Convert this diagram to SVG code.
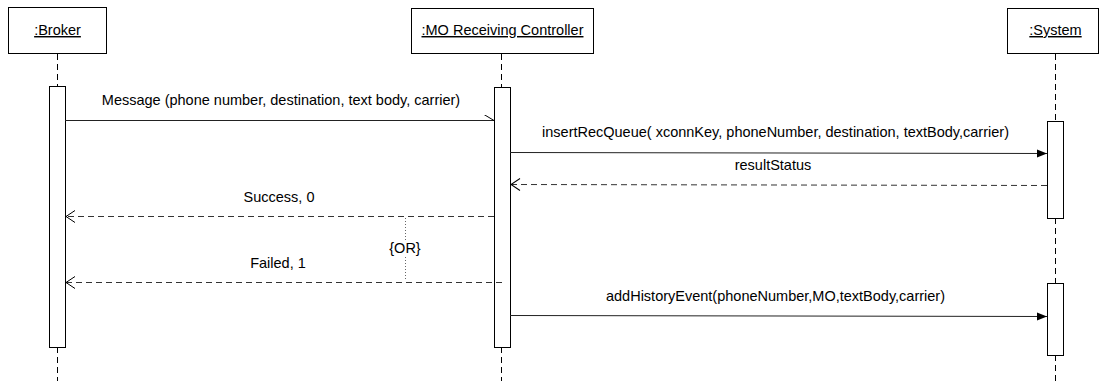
<svg xmlns="http://www.w3.org/2000/svg" width="1099" height="381" viewBox="0 0 1099 381">
  <defs>
    <style>
      .obj { fill: #fff; stroke: #000; stroke-width: 1; }
      .act { fill: #fff; stroke: #000; stroke-width: 1; }
      .life { stroke: #000; stroke-width: 1; stroke-dasharray: 6 4; fill: none; }
      .call { stroke: #222; stroke-width: 1; fill: none; }
      .ret { stroke: #333; stroke-width: 1; stroke-dasharray: 6 4; fill: none; }
      .guard { stroke: #666; stroke-width: 1; stroke-dasharray: 1 2; fill: none; }
      text { font-family: "Liberation Sans", Arial, sans-serif; font-size: 14.5px; fill: #000; }
      .name { text-anchor: middle; text-decoration: underline; }
      .lbl { text-anchor: middle; }
    </style>
    <!-- asynchronous (half stick) head -->
    <marker id="half" markerWidth="12" markerHeight="12" refX="10" refY="6" orient="auto" markerUnits="userSpaceOnUse">
      <path d="M0,0 L10,6" stroke="#000" stroke-width="1" fill="none"/>
    </marker>
    <!-- synchronous call head -->
    <marker id="filled" markerWidth="12" markerHeight="12" refX="10" refY="6" orient="auto" markerUnits="userSpaceOnUse">
      <path d="M0,2 L10,6 L0,10 Z" fill="#000"/>
    </marker>
    <!-- reply head -->
    <marker id="open" markerWidth="12" markerHeight="14" refX="10" refY="7" orient="auto" markerUnits="userSpaceOnUse">
      <path d="M1,1 L10,7 L1,13" stroke="#000" stroke-width="1" fill="none"/>
    </marker>
  </defs>

  <!-- Broker -->
  <g id="broker">
    <line class="life" x1="57.5" y1="54" x2="57.5" y2="86"/>
    <line class="life" x1="57.5" y1="347" x2="57.5" y2="381"/>
    <rect class="obj" x="8.5" y="7.5" width="98" height="46"/>
    <text class="name" x="57.5" y="35">:Broker</text>
    <rect class="act" x="49.5" y="86.5" width="16" height="261"/>
  </g>

  <!-- MO Receiving Controller -->
  <g id="controller">
    <line class="life" x1="501.5" y1="54" x2="501.5" y2="87"/>
    <line class="life" x1="501.5" y1="347" x2="501.5" y2="381"/>
    <rect class="obj" x="411.5" y="8.5" width="182" height="45"/>
    <text class="name" x="502.5" y="35">:MO Receiving Controller</text>
    <rect class="act" x="494.5" y="87.5" width="16" height="260"/>
  </g>

  <!-- System -->
  <g id="system">
    <line class="life" x1="1055.5" y1="54" x2="1055.5" y2="121"/>
    <line class="life" x1="1055.5" y1="218" x2="1055.5" y2="283"/>
    <line class="life" x1="1055.5" y1="355" x2="1055.5" y2="381"/>
    <rect class="obj" x="1007.5" y="8.5" width="91" height="45"/>
    <text class="name" x="1055.5" y="35">:System</text>
    <rect class="act" x="1047.5" y="121.5" width="16" height="97"/>
    <rect class="act" x="1047.5" y="283.5" width="16" height="72"/>
  </g>

  <!-- Messages -->
  <g id="connectors">
    <line class="call" x1="65" y1="120.5" x2="494" y2="120.5" marker-end="url(#half)"/>
    <text class="lbl" x="281" y="105">Message (phone number, destination, text body, carrier)</text>

    <line class="call" x1="510" y1="152.5" x2="1047" y2="153.5" marker-end="url(#filled)"/>
    <text class="lbl" x="775.5" y="137">insertRecQueue( xconnKey, phoneNumber, destination, textBody,carrier)</text>

    <line class="ret" x1="1047" y1="185.5" x2="511" y2="184.5" marker-end="url(#open)"/>
    <text class="lbl" x="773" y="170">resultStatus</text>

    <line class="ret" x1="494" y1="216.5" x2="66" y2="216.5" marker-end="url(#open)"/>
    <text class="lbl" x="279" y="202">Success, 0</text>

    <line class="ret" x1="502" y1="282.5" x2="66" y2="282.5" marker-end="url(#open)"/>
    <text class="lbl" x="278" y="268">Failed, 1</text>

    <line class="guard" x1="405.5" y1="218" x2="405.5" y2="281"/>
    <text class="lbl" x="405" y="253" style="fill:#fff" stroke="#fff" stroke-width="6">{OR}</text>
    <text class="lbl" x="405" y="253">{OR}</text>

    <line class="call" x1="510" y1="315.5" x2="1047" y2="316.5" marker-end="url(#filled)"/>
    <text class="lbl" x="775.5" y="301">addHistoryEvent(phoneNumber,MO,textBody,carrier)</text>
  </g>
</svg>
